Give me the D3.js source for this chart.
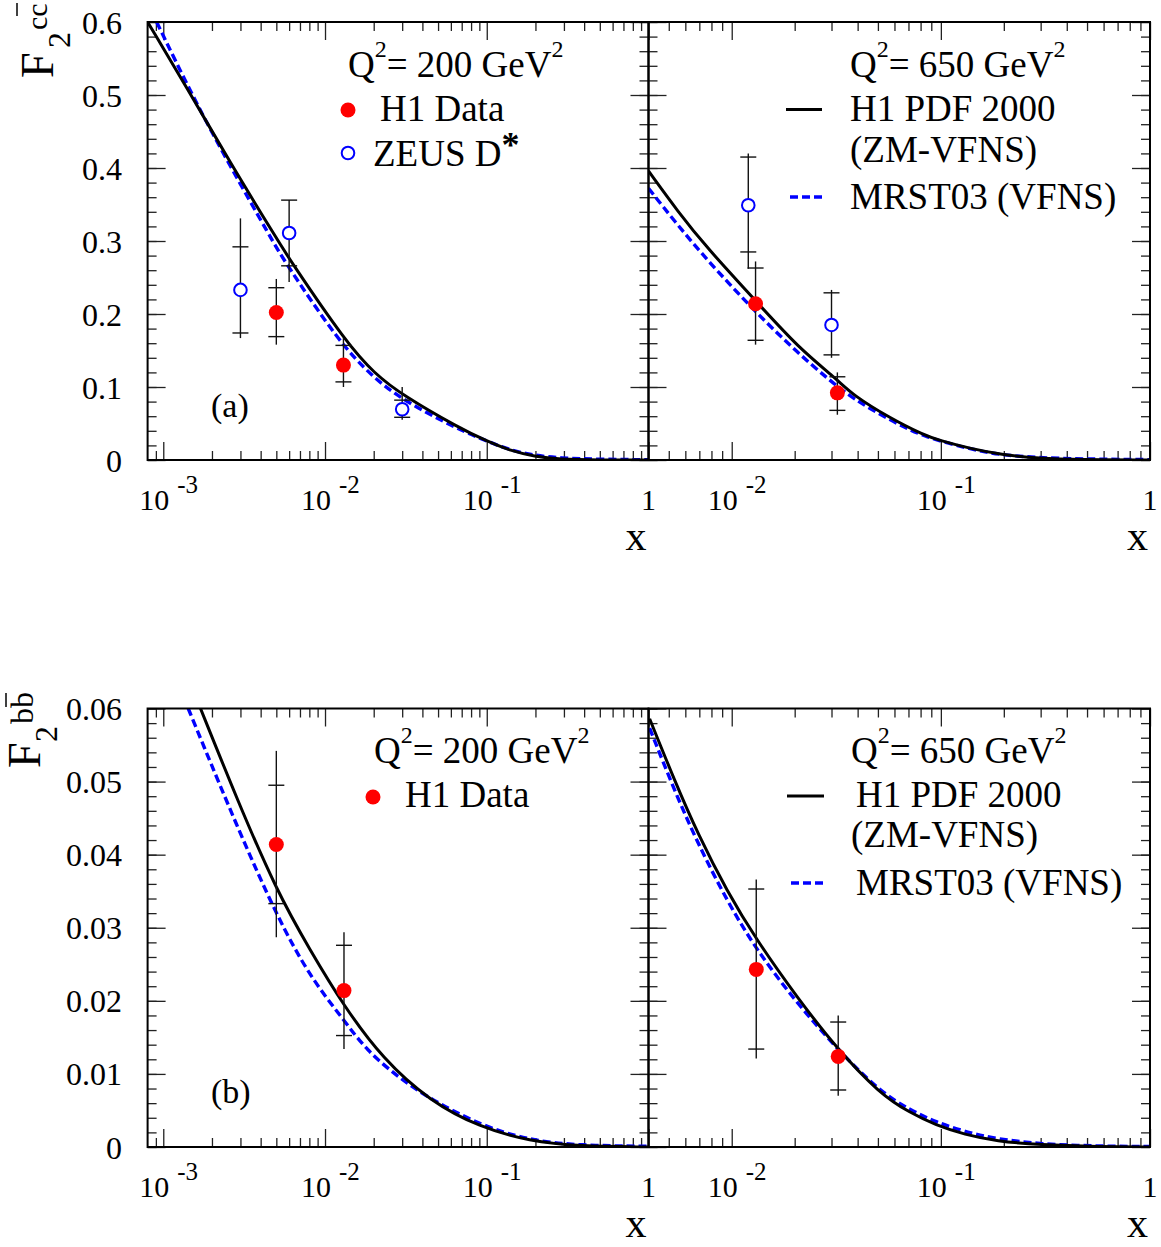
<!DOCTYPE html>
<html><head><meta charset="utf-8">
<script src="https://cdn.jsdelivr.net/npm/d3@7"></script>
<style>
body{margin:0;background:#fff}
text{font-family:"Liberation Serif","Times New Roman",serif;fill:#000}
</style>
</head><body>
<svg id="c" width="1161" height="1247"></svg>
<script>
// ---------------- DATA ----------------
const yTicksCC = [0, 0.1, 0.2, 0.3, 0.4, 0.5, 0.6];
const yTickLabelsCC = ["0", "0.1", "0.2", "0.3", "0.4", "0.5", "0.6"];
const yTicksBB = [0, 0.01, 0.02, 0.03, 0.04, 0.05, 0.06];
const yTickLabelsBB = ["0", "0.01", "0.02", "0.03", "0.04", "0.05", "0.06"];
const xMajorLeft = [1e-3, 1e-2, 1e-1, 1];
const xMajorRight = [1e-2, 1e-1, 1];

// F2 cc, Q2 = 200
const cc200_h1pdf_x = [8.0e-4, 1.5e-3, 2.58e-3, 5.0e-3, 6.06e-3, 1.36e-2, 2.03e-2, 3.0e-2, 6.8e-2, 1.0e-1, 1.38e-1, 1.98e-1, 2.8e-1, 5.0e-1, 1.0];
const cc200_h1pdf_y = [0.600, 0.4986, 0.408, 0.304, 0.274, 0.160, 0.118, 0.089, 0.0434, 0.026, 0.013, 0.0048, 0.001, 0.0, 0.0];
const cc200_mrst_x = [9.1e-4, 1.515e-3, 2.545e-3, 4.625e-3, 5.645e-3, 1.234e-2, 1.945e-2, 3.0e-2, 6.8e-2, 1.0e-1, 1.38e-1, 1.98e-1, 2.8e-1, 5.0e-1, 1.0];
const cc200_mrst_y = [0.600, 0.4986, 0.4055, 0.3041, 0.2712, 0.1603, 0.1151, 0.0822, 0.0411, 0.026, 0.0137, 0.0062, 0.0027, 0.0009, 0.0004];
const cc200_h1_x = [5.0e-3, 1.3e-2];
const cc200_h1_y = [0.202, 0.130];
const cc200_h1_statUp = [0.236, 0.157];
const cc200_h1_statDn = [0.169, 0.107];
const cc200_h1_totUp = [0.248, 0.167];
const cc200_h1_totDn = [0.158, 0.100];
const cc200_zeus_x = [3.0e-3, 6.0e-3, 3.0e-2];
const cc200_zeus_y = [0.233, 0.311, 0.0695];
const cc200_zeus_statUp = [0.292, 0.356, 0.082];
const cc200_zeus_statDn = [0.174, 0.266, 0.0585];
const cc200_zeus_totUp = [0.331, 0.356, 0.100];
const cc200_zeus_totDn = [0.167, 0.244, 0.055];

// F2 cc, Q2 = 650
const cc650_h1pdf_x = [4.0e-3, 5.563e-3, 7.59e-3, 1.305e-2, 2.083e-2, 3.216e-2, 3.793e-2, 5.7e-2, 8.286e-2, 9.88e-2, 1.374e-1, 1.932e-1, 2.97e-1, 4.61e-1, 1.0];
const cc650_h1pdf_y = [0.3959, 0.3393, 0.2911, 0.2178, 0.1537, 0.1096, 0.0890, 0.0575, 0.0342, 0.0267, 0.0158, 0.0075, 0.0019, 0.0005, 0.0];
const cc650_mrst_x = [4.0e-3, 5.563e-3, 7.59e-3, 1.305e-2, 2.083e-2, 2.929e-2, 3.793e-2, 5.7e-2, 8.286e-2, 1.374e-1, 1.932e-1, 2.97e-1, 4.61e-1, 1.0];
const cc650_mrst_y = [0.3722, 0.3204, 0.2747, 0.2018, 0.1460, 0.1096, 0.0841, 0.0548, 0.0315, 0.0151, 0.0068, 0.0030, 0.0014, 0.0005];
const cc650_h1_x = [1.3e-2, 3.2e-2];
const cc650_h1_y = [0.214, 0.092];
const cc650_h1_statUp = [0.263, 0.114];
const cc650_h1_statDn = [0.164, 0.068];
const cc650_h1_totUp = [0.272, 0.120];
const cc650_h1_totDn = [0.158, 0.062];
const cc650_zeus_x = [1.2e-2, 3.0e-2];
const cc650_zeus_y = [0.349, 0.185];
const cc650_zeus_statUp = [0.415, 0.229];
const cc650_zeus_statDn = [0.285, 0.144];
const cc650_zeus_totUp = [0.420, 0.233];
const cc650_zeus_totDn = [0.262, 0.140];

// F2 bb, Q2 = 200
const bb200_h1pdf_x = [1.462e-3, 1.685e-3, 2.892e-3, 5.01e-3, 8.05e-3, 1.306e-2, 2.285e-2, 4.439e-2, 9.04e-2, 1.84e-1, 3.748e-1, 1.0];
const bb200_h1pdf_y = [0.0636, 0.0602, 0.0473, 0.0351, 0.0270, 0.0193, 0.0120, 0.0063, 0.0027, 0.0008, 0.0001, 0.0];
const bb200_mrst_x = [1.427e-3, 1.685e-3, 2.892e-3, 5.01e-3, 8.05e-3, 1.306e-2, 1.804e-2, 2.897e-2, 4.439e-2, 9.3e-2, 1.84e-1, 3.748e-1, 1.0];
const bb200_mrst_y = [0.0600, 0.0561, 0.0436, 0.0317, 0.0233, 0.0174, 0.0132, 0.0094, 0.0066, 0.0029, 0.0009, 0.0002, 0.0001];
const bb200_h1_x = [5.0e-3, 1.31e-2];
const bb200_h1_y = [0.0414, 0.0214];
const bb200_h1_statUp = [0.0495, 0.0276];
const bb200_h1_statDn = [0.0333, 0.01525];
const bb200_h1_totUp = [0.0542, 0.0294];
const bb200_h1_totDn = [0.0287, 0.0134];

// F2 bb, Q2 = 650
const bb650_h1pdf_x = [4.05e-3, 5.354e-3, 6.896e-3, 9.486e-3, 1.309e-2, 2.049e-2, 3.216e-2, 5.105e-2, 7.1e-2, 9.459e-2, 1.301e-1, 1.843e-1, 2.97e-1, 5.74e-1, 1.0];
const bb650_h1pdf_y = [0.0586, 0.0500, 0.0428, 0.0350, 0.0284, 0.0205, 0.0133, 0.0073, 0.0047, 0.0030, 0.0017, 0.0008, 0.0003, 0.00005, 0.0];
const bb650_mrst_x = [4.05e-3, 5.354e-3, 6.896e-3, 9.486e-3, 1.309e-2, 2.049e-2, 3.216e-2, 5.105e-2, 7.1e-2, 9.459e-2, 1.301e-1, 1.843e-1, 2.97e-1, 5.74e-1, 1.0];
const bb650_mrst_y = [0.0573, 0.0486, 0.0415, 0.0337, 0.0270, 0.0197, 0.0133, 0.0076, 0.0051, 0.0034, 0.0021, 0.0011, 0.0004, 0.0001, 0.00007];
const bb650_h1_x = [1.31e-2, 3.23e-2];
const bb650_h1_y = [0.0243, 0.0124];
const bb650_h1_statUp = [0.0353, 0.0171];
const bb650_h1_statDn = [0.0134, 0.0078];
const bb650_h1_totUp = [0.0366, 0.0180];
const bb650_h1_totDn = [0.0121, 0.0070];

const legendH1PDF = ["H1 PDF 2000", "(ZM-VFNS)"];
const legendMRST = "MRST03 (VFNS)";
const legendH1 = "H1 Data";
const legendZEUS = "ZEUS D";

// ---------------- DRAW ----------------
const svg = d3.select("#c");
svg.append("rect").attr("width", 1161).attr("height", 1247).attr("fill", "#fff");

const zip = (xs, ys) => xs.map((v, i) => [v, ys[i]]);
const pts = (x, y, su, sd, tu, td) => x.map((v, i) => ({x: v, y: y[i], su: su[i], sd: sd[i], tu: tu[i], td: td[i]}));

const panels = [
  {id: "p1", xDomain: [8e-4, 1], xRange: [147.6, 648.5], yRange: [22, 460], yDomain: [0, 0.6],
   yTicks: yTicksCC, yLabels: yTickLabelsCC, yMinorStep: 0.02, xMajor: xMajorLeft, showY: true,
   black: zip(cc200_h1pdf_x, cc200_h1pdf_y), blue: zip(cc200_mrst_x, cc200_mrst_y),
   h1: pts(cc200_h1_x, cc200_h1_y, cc200_h1_statUp, cc200_h1_statDn, cc200_h1_totUp, cc200_h1_totDn),
   zeus: pts(cc200_zeus_x, cc200_zeus_y, cc200_zeus_statUp, cc200_zeus_statDn, cc200_zeus_totUp, cc200_zeus_totDn)},
  {id: "p2", xDomain: [4e-3, 1], xRange: [648.5, 1150], yRange: [22, 460], yDomain: [0, 0.6],
   yTicks: yTicksCC, yLabels: yTickLabelsCC, yMinorStep: 0.02, xMajor: xMajorRight, showY: false,
   black: zip(cc650_h1pdf_x, cc650_h1pdf_y), blue: zip(cc650_mrst_x, cc650_mrst_y),
   h1: pts(cc650_h1_x, cc650_h1_y, cc650_h1_statUp, cc650_h1_statDn, cc650_h1_totUp, cc650_h1_totDn),
   zeus: pts(cc650_zeus_x, cc650_zeus_y, cc650_zeus_statUp, cc650_zeus_statDn, cc650_zeus_totUp, cc650_zeus_totDn)},
  {id: "p3", xDomain: [8e-4, 1], xRange: [147.6, 648.5], yRange: [708.5, 1147], yDomain: [0, 0.06],
   yTicks: yTicksBB, yLabels: yTickLabelsBB, yMinorStep: 0.002, xMajor: xMajorLeft, showY: true,
   black: zip(bb200_h1pdf_x, bb200_h1pdf_y), blue: zip(bb200_mrst_x, bb200_mrst_y),
   h1: pts(bb200_h1_x, bb200_h1_y, bb200_h1_statUp, bb200_h1_statDn, bb200_h1_totUp, bb200_h1_totDn),
   zeus: []},
  {id: "p4", xDomain: [4e-3, 1], xRange: [648.5, 1150], yRange: [708.5, 1147], yDomain: [0, 0.06],
   yTicks: yTicksBB, yLabels: yTickLabelsBB, yMinorStep: 0.002, xMajor: xMajorRight, showY: false,
   black: zip(bb650_h1pdf_x, bb650_h1pdf_y), blue: zip(bb650_mrst_x, bb650_mrst_y),
   h1: pts(bb650_h1_x, bb650_h1_y, bb650_h1_statUp, bb650_h1_statDn, bb650_h1_totUp, bb650_h1_totDn),
   zeus: []}
];

const defs = svg.append("defs");

panels.forEach(p => {
  const x = d3.scaleLog().domain(p.xDomain).range(p.xRange);
  const y = d3.scaleLinear().domain(p.yDomain).range([p.yRange[1], p.yRange[0]]);
  const g = svg.append("g");
  const [x0, x1] = p.xRange, [y0, y1] = p.yRange;

  defs.append("clipPath").attr("id", "clip-" + p.id).append("rect")
    .attr("x", x0).attr("y", y0).attr("width", x1 - x0).attr("height", y1 - y0);

  // ticks
  const lo = Math.floor(Math.log10(p.xDomain[0])), hi = Math.ceil(Math.log10(p.xDomain[1]));
  const xMinor = [];
  for (let d = lo; d < hi; d++) for (let k = 2; k <= 9; k++) {
    const v = k * Math.pow(10, d);
    if (v > p.xDomain[0] * 1.0001 && v < p.xDomain[1] * 0.9999) xMinor.push(v);
  }
  const yMinor = d3.range(p.yDomain[0], p.yDomain[1] + p.yMinorStep / 2, p.yMinorStep);
  const mk = (axisFn, scale, vals, size, tx, ty) => {
    const a = axisFn(scale).tickValues(vals).tickSizeInner(-size).tickSizeOuter(0).tickFormat("");
    const gg = g.append("g").attr("transform", `translate(${tx},${ty})`).call(a);
    gg.select(".domain").remove();
    gg.selectAll("text").remove();
    gg.selectAll("line").attr("stroke", "#222").attr("stroke-width", 1.3);
  };
  mk(d3.axisBottom, x, p.xMajor, 18, 0, y1);
  mk(d3.axisBottom, x, xMinor, 9, 0, y1);
  mk(d3.axisTop, x, p.xMajor, 18, 0, y0);
  mk(d3.axisTop, x, xMinor, 9, 0, y0);
  mk(d3.axisLeft, y, p.yTicks, 18, x0, 0);
  mk(d3.axisLeft, y, yMinor, 9, x0, 0);
  mk(d3.axisRight, y, p.yTicks, 18, x1, 0);
  mk(d3.axisRight, y, yMinor, 9, x1, 0);

  // curves
  const line = d3.line().x(d => x(d[0])).y(d => y(d[1])).curve(d3.curveBasis);
  const cg = g.append("g").attr("clip-path", `url(#clip-${p.id})`);
  cg.append("path").datum(p.blue).attr("d", line).attr("fill", "none")
    .attr("stroke", "#0000ff").attr("stroke-width", 3.4).attr("stroke-dasharray", "8,4");
  cg.append("path").datum(p.black).attr("d", line).attr("fill", "none")
    .attr("stroke", "#000").attr("stroke-width", 3);

  // error bars
  const all = p.h1.concat(p.zeus);
  g.selectAll(null).data(all).join("line")
    .attr("x1", d => x(d.x)).attr("x2", d => x(d.x))
    .attr("y1", d => y(d.tu)).attr("y2", d => y(d.td))
    .attr("stroke", "#111").attr("stroke-width", 1.4);
  ["su", "sd"].forEach(k => {
    g.selectAll(null).data(all).join("line")
      .attr("x1", d => x(d.x) - 8).attr("x2", d => x(d.x) + 8)
      .attr("y1", d => y(d[k])).attr("y2", d => y(d[k]))
      .attr("stroke", "#111").attr("stroke-width", 1.4);
  });
  // markers
  g.selectAll(null).data(p.zeus).join("circle")
    .attr("cx", d => x(d.x)).attr("cy", d => y(d.y)).attr("r", 6.3)
    .attr("fill", "#fff").attr("stroke", "#0000ff").attr("stroke-width", 2);
  g.selectAll(null).data(p.h1).join("circle")
    .attr("cx", d => x(d.x)).attr("cy", d => y(d.y)).attr("r", 7.5).attr("fill", "#ff0000");

  // frame
  g.append("rect").attr("x", x0).attr("y", y0).attr("width", x1 - x0).attr("height", y1 - y0)
    .attr("fill", "none").attr("stroke", "#000").attr("stroke-width", 2);

  // x labels
  p.xMajor.forEach(v => {
    const px = x(v);
    const e = Math.round(Math.log10(v));
    if (e === 0) {
      g.append("text").attr("x", px).attr("y", y1 + 50).attr("text-anchor", "middle").attr("font-size", 30).text("1");
    } else {
      g.append("text").attr("x", px + 6).attr("y", y1 + 50).attr("text-anchor", "end").attr("font-size", 30).text("10");
      g.append("text").attr("x", px + 14).attr("y", y1 + 33).attr("font-size", 25).text(String(e));
    }
  });
  g.append("text").attr("x", x1 - 2).attr("y", y1 + 90).attr("text-anchor", "end").attr("font-size", 42).text("x");

  // y labels
  if (p.showY) {
    p.yTicks.forEach((v, i) => {
      g.append("text").attr("x", 122).attr("y", y(v) + 11.5).attr("text-anchor", "end")
        .attr("font-size", 32).text(p.yLabels[i]);
    });
  }
});

// ---- legends & annotations ----
function qText(x0, yb, val) {
  const t = svg.append("text").attr("x", x0).attr("y", yb).attr("font-size", 37);
  t.append("tspan").text("Q");
  t.append("tspan").attr("font-size", 24).attr("dy", -20).text("2");
  t.append("tspan").attr("dy", 20).text("= " + val + " GeV");
  t.append("tspan").attr("font-size", 24).attr("dy", -20).text("2");
}
function txt(x0, yb, s, fs) {
  return svg.append("text").attr("x", x0).attr("y", yb).attr("font-size", fs || 37).text(s);
}
// panel a
qText(348, 77, "200");
svg.append("circle").attr("cx", 348).attr("cy", 110).attr("r", 7.5).attr("fill", "#ff0000");
txt(380, 121, legendH1);
svg.append("circle").attr("cx", 348).attr("cy", 153).attr("r", 6.3).attr("fill", "#fff").attr("stroke", "#0000ff").attr("stroke-width", 2);
const zt = txt(373, 166, "");
zt.append("tspan").text(legendZEUS);
zt.append("tspan").attr("dy", -9).attr("font-size", 36).attr("font-weight", "bold").text("*");
txt(211, 417, "(a)", 34);

// panel top right
qText(850, 77, "650");
svg.append("line").attr("x1", 786).attr("x2", 822).attr("y1", 109.5).attr("y2", 109.5).attr("stroke", "#000").attr("stroke-width", 3);
txt(850, 121, legendH1PDF[0]);
txt(850, 162, legendH1PDF[1]);
svg.append("line").attr("x1", 790).attr("x2", 824).attr("y1", 197).attr("y2", 197).attr("stroke", "#0000ff").attr("stroke-width", 3.4).attr("stroke-dasharray", "8,4");
txt(850, 209, legendMRST);

// panel b
qText(374, 763, "200");
svg.append("circle").attr("cx", 373).attr("cy", 797).attr("r", 7.5).attr("fill", "#ff0000");
txt(405, 807, legendH1);
txt(211, 1103, "(b)", 34);

// panel bottom right
qText(851, 763, "650");
svg.append("line").attr("x1", 787).attr("x2", 824).attr("y1", 796).attr("y2", 796).attr("stroke", "#000").attr("stroke-width", 3);
txt(856, 807, legendH1PDF[0]);
txt(851, 847, legendH1PDF[1]);
svg.append("line").attr("x1", 791).attr("x2", 825).attr("y1", 883).attr("y2", 883).attr("stroke", "#0000ff").attr("stroke-width", 3.4).attr("stroke-dasharray", "8,4");
txt(856, 895, legendMRST);

// y titles (rotated)
function rtext(x0, y0, s, fs) {
  return svg.append("text").attr("transform", `translate(${x0},${y0}) rotate(-90)`).attr("font-size", fs).text(s);
}
rtext(53, 78, "F", 46);
rtext(70, 48, "2", 32);
rtext(47, 30, "cc", 30);
svg.append("line").attr("x1", 17).attr("x2", 17).attr("y1", 16).attr("y2", 3).attr("stroke", "#000").attr("stroke-width", 1.5);

rtext(40, 768, "F", 46);
rtext(57, 742, "2", 32);
rtext(33, 724, "bb", 32);
svg.append("line").attr("x1", 6).attr("x2", 6).attr("y1", 707).attr("y2", 693).attr("stroke", "#000").attr("stroke-width", 1.5);
</script>
</body></html>
